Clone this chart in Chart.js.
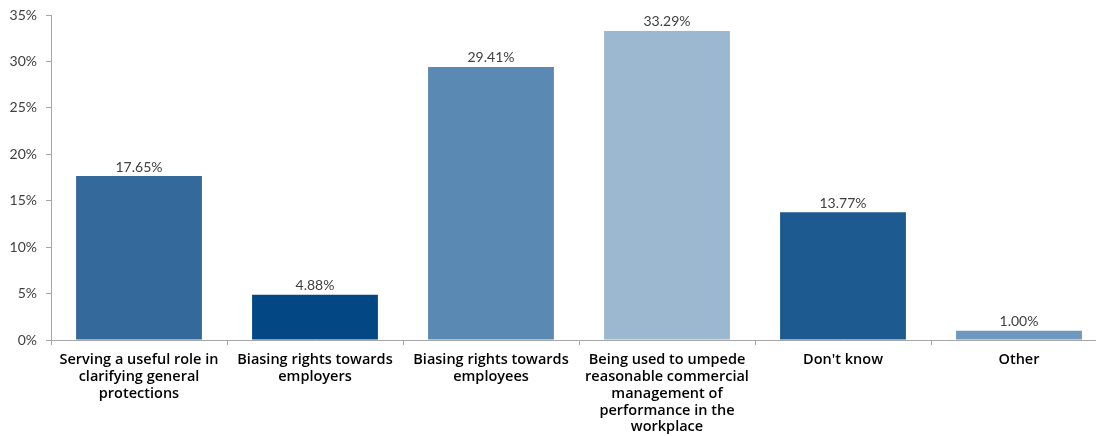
<!DOCTYPE html>
<html>
<head>
<meta charset="utf-8">
<script src="https://cdn.jsdelivr.net/npm/chart.js@4"></script>
<style>
  html, body { margin: 0; padding: 0; background: #fff; }
  #wrap { width: 1096px; height: 436px; overflow: hidden; }
</style>
</head>
<body>
<div id="wrap"><canvas id="myChart" width="1110" height="436"></canvas></div>
<script>
// categories (multi-line labels as in the original)
var categories = [
  ["Serving a useful role in", "clarifying general", "protections"],
  ["Biasing rights towards", "employers"],
  ["Biasing rights towards", "employees"],
  ["Being used to umpede", "reasonable commercial", "management of", "performance in the", "workplace"],
  ["Don't know"],
  ["Other"]
];
var values = [17.65, 4.88, 29.41, 33.29, 13.77, 1.00];
var barColors = ["#346a9b", "#034784", "#5a89b3", "#9cb7d0", "#1c5a90", "#6e98be"];
var yTicks = [0, 5, 10, 15, 20, 25, 30, 35];

var axisGray = "#a6a6a6";
var textGray = "#404040";

// draws the value over each bar
var valueLabels = {
  id: "valueLabels",
  afterDatasetsDraw: function(chart) {
    var ctx = chart.ctx;
    var meta = chart.getDatasetMeta(0);
    ctx.save();
    ctx.font = "14px Lato";
    ctx.fillStyle = textGray;
    ctx.textAlign = "center";
    ctx.textBaseline = "bottom";
    meta.data.forEach(function(bar, i) {
      ctx.fillText(values[i].toFixed(2) + "%", bar.x, bar.y - 2);
    });
    ctx.restore();
  }
};

new Chart("myChart", {
  type: "bar",
  data: {
    labels: categories,
    datasets: [{
      data: values,
      backgroundColor: barColors,
      categoryPercentage: 1,
      barPercentage: 0.715
    }]
  },
  options: {
    responsive: false,
    animation: false,
    layout: { padding: { top: 15, right: 3, left: 0, bottom: 0 } },
    plugins: {
      legend: { display: false },
      tooltip: { enabled: false }
    },
    scales: {
      x: {
        afterFit: function(scale) { scale.height = 96; },
        border: { color: axisGray, width: 1 },
        grid: { offset: true, drawOnChartArea: false, tickLength: 5, color: axisGray },
        ticks: {
          maxRotation: 0,
          autoSkip: false,
          padding: 6,
          color: "#000",
          font: { family: "Open Sans", size: 14.5, weight: "600", lineHeight: 1.17 }
        }
      },
      y: {
        min: 0,
        max: 35,
        afterFit: function(scale) {
          scale.width = 51;
          scale.paddingTop = 0;
          scale.paddingBottom = 0;
        },
        afterBuildTicks: function(scale) {
          scale.ticks = yTicks.map(function(v) { return { value: v }; });
        },
        border: { color: axisGray, width: 1 },
        grid: { drawOnChartArea: false, tickLength: 5, color: axisGray },
        ticks: {
          padding: 9,
          color: textGray,
          font: { family: "Lato", size: 14 },
          callback: function(v) { return v + "%"; }
        }
      }
    }
  },
  plugins: [valueLabels]
});
</script>
</body>
</html>
